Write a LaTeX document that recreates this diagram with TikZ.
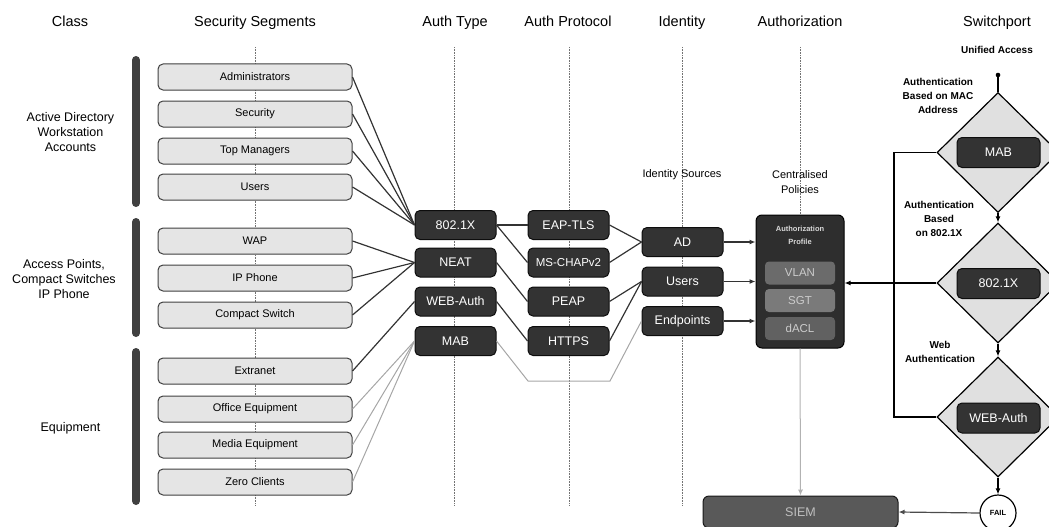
\documentclass[tikz,border=0pt]{standalone}
\usepackage{fontspec}
\setmainfont{Liberation Sans}
\usetikzlibrary{arrows.meta,shapes.geometric}
\begin{document}
\begin{tikzpicture}[x=1pt,y=-1pt,
  hdr/.style={font=\fontsize{14.5}{17}\selectfont, anchor=base},
  cls/.style={font=\fontsize{12.5}{15}\selectfont, align=center},
  lbl/.style={font=\fontsize{11}{14.5}\selectfont, align=center},
  blbl/.style={font=\bfseries\fontsize{10}{14}\selectfont, align=center},
  seg/.style={draw=black!75, fill=black!10, rounded corners=5pt, line width=1pt,
    minimum width=194pt, minimum height=26pt, inner sep=0pt, font=\fontsize{11}{13}\selectfont},
  dark/.style={draw=black!95, fill=black!80, rounded corners=5pt, line width=1pt, text=white,
    minimum width=81pt, minimum height=29pt, inner sep=0pt, font=\fontsize{12.5}{14}\selectfont},
  guide/.style={draw=black!55, dash pattern=on 0.8pt off 0.8pt, line width=0.7pt},
  link/.style={draw=black!80, line width=1.2pt},
  glink/.style={draw=black!35, line width=1pt},
  classbar/.style={line width=8pt, line cap=round, draw=black!75},
  arr/.style={-{Latex[length=6pt,width=5pt]}},
  inner/.style={rounded corners=4pt, minimum width=70pt, minimum height=23pt, inner sep=0pt,
    text=black!20, font=\fontsize{11.5}{13}\selectfont},
  dia/.style={diamond, draw=black, fill=black!12, line width=1.2pt, minimum width=122pt,
    minimum height=120pt, inner sep=0pt}
]
\useasboundingbox (0,0) rectangle (1049,527);
\clip (0,0) rectangle (1049,527);

% headers
\node[hdr] (hClass) at (70,27) {Class};
\node[hdr] (hSeg) at (255,27) {Security Segments};
\node[hdr] (hType) at (455,27) {Auth Type};
\node[hdr] (hProt) at (568,27) {Auth Protocol};
\node[hdr] (hId) at (682,27) {Identity};
\node[hdr] (hAuthz) at (800,27) {Authorization};
\node[hdr] (hSw) at (997,27) {Switchport};

% guides
\draw[guide] (255,47) -- (255,505);
\draw[guide] (454,47) -- (454,505);
\draw[guide] (569,47) -- (569,505);
\draw[guide] (682,47) -- (682,505);
\draw[guide] (800,47) -- (800,215);

% class bars
\draw[classbar] (136,60) -- (136,203);
\draw[classbar] (136,222) -- (136,333);
\draw[classbar] (136,352) -- (136,501);

% class labels
\node[cls] (cAD) at (70.5,132) {Active Directory\\Workstation\\Accounts};
\node[cls] (cAP) at (64,279) {Access Points,\\Compact Switches\\IP Phone};
\node[cls] (cEq) at (70.5,428) {Equipment};

% segments
\node[seg] (sAdm) at (255,77) {Administrators};
\node[seg] (sSec) at (255,114) {Security};
\node[seg] (sTop) at (255,151) {Top Managers};
\node[seg] (sUsr) at (255,187) {Users};
\node[seg] (sWap) at (255,241) {WAP};
\node[seg] (sIpp) at (255,278) {IP Phone};
\node[seg] (sCsw) at (255,315) {Compact Switch};
\node[seg] (sExt) at (255,371) {Extranet};
\node[seg] (sOff) at (255,409) {Office Equipment};
\node[seg] (sMed) at (255,445) {Media Equipment};
\node[seg] (sZer) at (255,482) {Zero Clients};

% auth types
\node[dark] (t8021x) at (455.5,225) {802.1X};
\node[dark] (tNeat) at (455.5,262.5) {NEAT};
\node[dark] (tWeb) at (455.5,301.5) {WEB-Auth};
\node[dark] (tMab) at (455.5,341) {MAB};

% protocols
\node[dark] (pEap) at (568.5,225) {EAP-TLS};
\node[dark, font=\fontsize{11.5}{13}\selectfont] (pMs) at (568.5,262.5) {MS-CHAPv2};
\node[dark] (pPeap) at (568.5,301.5) {PEAP};
\node[dark] (pHttps) at (568.5,341) {HTTPS};

% identity
\node[lbl] (idsrc) at (682,175) {Identity Sources};
\node[dark] (iAD) at (682.5,242) {AD};
\node[dark] (iUsr) at (682.5,281.5) {Users};
\node[dark] (iEp) at (682.5,321) {Endpoints};

% segment -> auth type
\foreach \s in {sAdm,sSec,sTop,sUsr} \draw[link] (\s.east) -- (t8021x.west);
\foreach \s in {sWap,sIpp,sCsw} \draw[link] (\s.east) -- (tNeat.west);
\draw[link] (sExt.east) -- (tWeb.west);
\foreach \s in {sOff,sMed,sZer} \draw[glink] (\s.east) -- (tMab.west);

% auth type -> protocol
\draw[link] (t8021x.east) -- (pEap.west);
\draw[link] (t8021x.east) -- (pMs.west);
\draw[link] (tNeat.east) -- (pPeap.west);
\draw[link] (tWeb.east) -- (pHttps.west);
\draw[glink] (tMab.east) -- (528,381) -- (610,381) -- (iEp.west);

% protocol -> identity
\draw[link] (pEap.east) -- (iAD.west);
\draw[link] (pMs.east) -- (iAD.west);
\draw[link] (pPeap.east) -- (iUsr.west);
\draw[link] (pHttps.east) -- (iUsr.west);

% authorization
\node[lbl] (cpol) at (800,182) {Centralised\\Policies};
\node[draw=black, fill=black!82, rounded corners=6pt, line width=1pt,
  minimum width=88pt, minimum height=133pt, inner sep=0pt] (prof) at (800,281.5) {};
\node[text=black!15, font=\bfseries\fontsize{7.5}{12.5}\selectfont, align=center] (profT) at (800,235.5) {Authorization\\Profile};
\node[inner, fill=black!58] (vlan) at (800,273) {VLAN};
\node[inner, fill=black!52] (sgt) at (800,300.5) {SGT};
\node[inner, fill=black!62] (dacl) at (800,328.5) {dACL};

\draw[link,arr] (iAD.east) -- (iAD.east -| prof.west);
\draw[link,arr] (iUsr.east) -- (iUsr.east -| prof.west);
\draw[link,arr] (iEp.east) -- (iEp.east -| prof.west);

% SIEM
\node[draw=black!90, fill=black!65, rounded corners=6pt, line width=1pt, minimum width=195pt,
  minimum height=32pt, inner sep=0pt, text=black!25, font=\fontsize{12.5}{14}\selectfont] (siem) at (800.5,512) {SIEM};
\draw[glink,arr, draw=black!30] (prof.south) -- (siem.north);

% switchport
\node[blbl] (ua) at (997,50) {Unified Access};
\node[blbl] (lMac) at (938,96) {Authentication\\Based on MAC\\Address};
\node[blbl] (l8021x) at (939,219) {Authentication\\Based\\on 802.1X};
\node[blbl] (lWeb) at (940,351.5) {Web\\Authentication};

\node[dia] (d1) at (998,152.5) {};
\node[dia] (d2) at (998,283) {};
\node[dia] (d3) at (998,417) {};
\node[dark, minimum width=83pt, minimum height=30pt] (bMab) at (998.5,152.5) {MAB};
\node[dark, minimum width=83pt, minimum height=30pt] (b8021x) at (998.5,283.5) {802.1X};
\node[dark, minimum width=83pt, minimum height=30pt] (bWeb) at (998.5,418) {WEB-Auth};

\node[circle, draw=black, fill=white, line width=1.2pt, minimum size=36pt, inner sep=0pt,
  font=\bfseries\fontsize{7.5}{9}\selectfont] (fail) at (998,513) {FAIL};

\coordinate (uadot) at (998,75);
\fill (uadot) circle (2.3pt);
\draw[line width=1.2pt] (uadot) -- (d1.north);
\draw[line width=1.2pt, arr] (d1.south) -- (d2.north);
\draw[line width=1.2pt, arr] (d2.south) -- (d3.north);
\draw[line width=1.2pt, arr] (d3.south) -- (fail.north);
\coordinate (loopx) at (894,0);
\draw[line width=1.2pt] (d1.west) -| (loopx |- d3.west) -- (d3.west);
\draw[line width=1.2pt, arr] (d2.west) -- (d2.west -| prof.east);
\draw[line width=1.2pt, arr, draw=black!70] (fail.west) -- (siem.east);
\end{tikzpicture}
\end{document}
